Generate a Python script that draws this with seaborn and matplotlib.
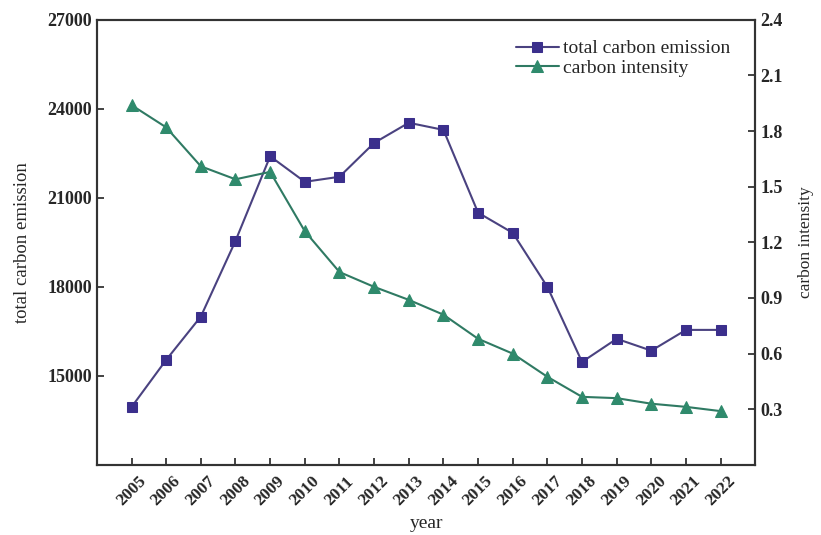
import pandas as pd
import matplotlib
matplotlib.use("Agg")
import matplotlib.pyplot as plt
import seaborn as sns

# Veri
years = list(range(2005, 2023))
total_emission = [13950, 15540, 17000, 19550, 22400, 21540, 21710, 22850, 23530, 23290,
                  20500, 19820, 18000, 15470, 16250, 15850, 16550, 16550]
carbon_intensity = [1.94, 1.82, 1.61, 1.54, 1.58, 1.26, 1.04, 0.96, 0.89, 0.81,
                    0.68, 0.60, 0.475, 0.367, 0.36, 0.33, 0.313, 0.29]

df = pd.DataFrame({"year": years, "emission": total_emission, "intensity": carbon_intensity})

sns.set_style("ticks")
plt.rcParams["font.family"] = ["Liberation Serif", "DejaVu Serif"]
plt.rcParams["xtick.direction"] = "in"
plt.rcParams["ytick.direction"] = "in"

fig = plt.figure(figsize=(8.21, 5.35), dpi=100)
ax1 = fig.add_axes([0.118, 0.131, 0.802, 0.832])
ax2 = ax1.twinx()

sns.lineplot(data=df, x="year", y="emission", ax=ax1, color="#4a4280", marker="s",
             markersize=7, markerfacecolor="#3b2f8c", markeredgecolor="#3b2f8c",
             linewidth=1.5, label="total carbon emission", legend=False)
sns.lineplot(data=df, x="year", y="intensity", ax=ax2, color="#2f7a63", marker="^",
             markersize=8, markerfacecolor="#2f8a6c", markeredgecolor="#2f8a6c",
             linewidth=1.5, label="carbon intensity", legend=False)

ax1.set_xlim(2004, 2023)
ax1.set_ylim(12000, 27000)
ax2.set_ylim(0, 2.4)
ax1.set_yticks(range(15000, 27001, 3000))
ax2.set_yticks([0.3, 0.6, 0.9, 1.2, 1.5, 1.8, 2.1, 2.4])
ax2.set_yticklabels(["0.3", "0.6", "0.9", "1.2", "1.5", "1.8", "2.1", "2.4"])
ax1.set_xticks(years)
ax1.set_xticklabels([str(y) for y in years], rotation=45, ha="center",
                    fontsize=12.5, fontweight="bold")

for lab in ax1.get_yticklabels() + ax2.get_yticklabels():
    lab.set_fontsize(13)
    lab.set_fontweight("bold")

ax1.tick_params(axis="both", length=5, width=1.2, color="#222222")
ax1.tick_params(axis="x", pad=6)
ax2.tick_params(axis="y", length=5, width=1.2, color="#222222")

for ax in (ax1, ax2):
    for sp in ax.spines.values():
        sp.set_linewidth(1.5)
        sp.set_color("#333333")
        sp.set_visible(True)

ax1.set_xlabel("year", fontsize=14, labelpad=4)
ax1.set_ylabel("total carbon emission", fontsize=13.5, labelpad=12)
ax2.set_ylabel("carbon intensity", fontsize=12.5, labelpad=11)

h1, l1 = ax1.get_legend_handles_labels()
h2, l2 = ax2.get_legend_handles_labels()
ax2.legend(h1 + h2, l1 + l2, loc="upper right", bbox_to_anchor=(0.985, 0.99),
           frameon=False, fontsize=14, handlelength=2.2, handletextpad=0.2,
           labelspacing=0.1, borderpad=0.3)

plt.savefig("out.png", dpi=100)
